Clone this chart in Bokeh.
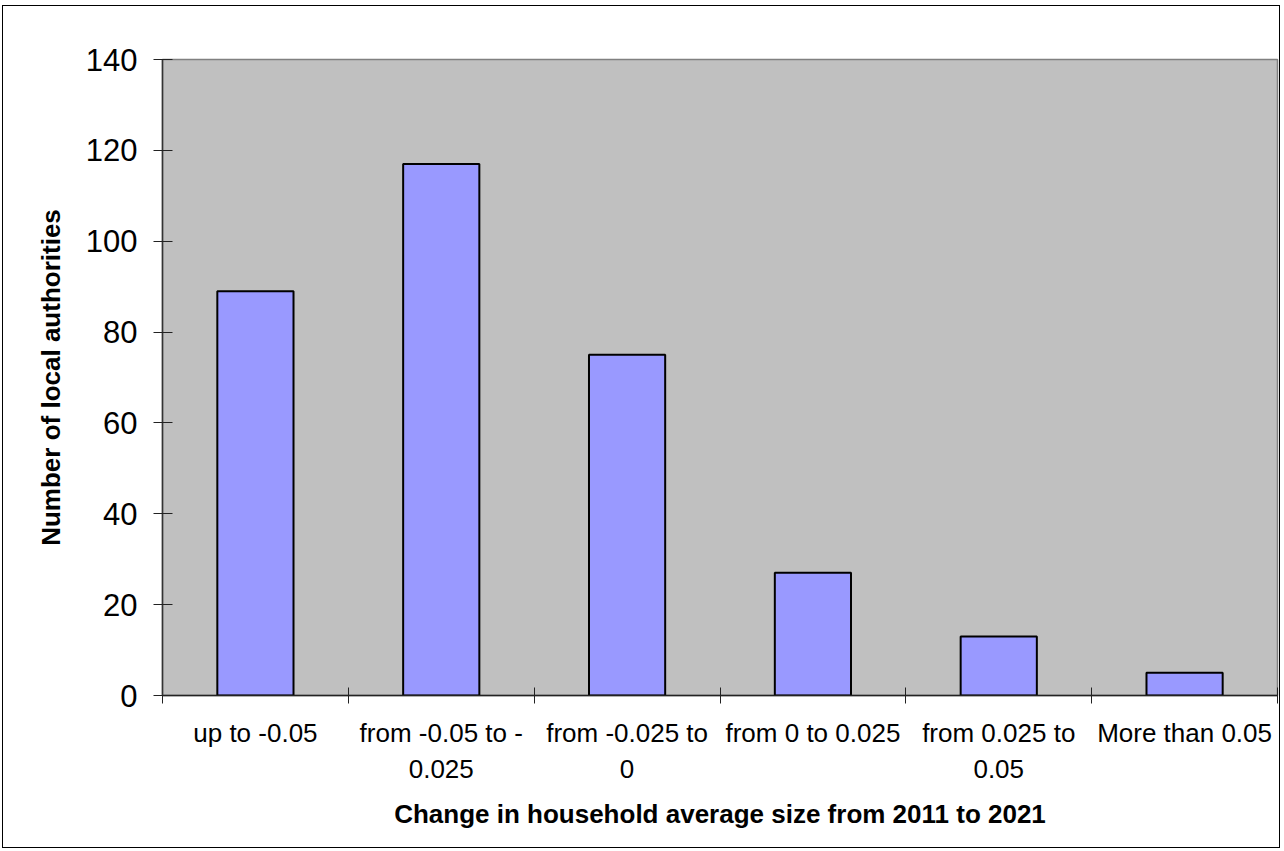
from bokeh.plotting import figure
from bokeh.models import FixedTicker, Range1d
from bokeh.embed import file_html
from bokeh.resources import INLINE

categories = ["up to -0.05", "from -0.05 to -\n0.025", "from -0.025 to\n0",
              "from 0 to 0.025", "from 0.025 to\n0.05", "More than 0.05"]
counts = [89, 117, 75, 27, 13, 5]
y_ticks = [0, 20, 40, 60, 80, 100, 120, 140]
x_title = "Change in household average size from 2011 to 2021"
y_title = "Number of local authorities"

n = len(categories)
centers = [i + 0.5 for i in range(n)]
bounds = list(range(n + 1))

FONT = "Liberation Sans"

p = figure(width=1278, height=843, x_range=Range1d(0, n), y_range=Range1d(0, 140),
           output_backend="svg", toolbar_location=None,
           min_border_left=159, min_border_top=53, min_border_right=4, min_border_bottom=154)
p.styles = {"border": "1px solid black", "margin-left": "2px", "margin-top": "5px"}

p.background_fill_color = "#C0C0C0"
p.border_fill_color = "white"
p.outline_line_color = "#808080"
p.outline_line_width = 1.5
p.xgrid.visible = False
p.ygrid.visible = False

p.vbar(x=centers, top=counts, width=0.41, bottom=0,
       fill_color="#9999FF", line_color="black", line_width=2)

# y axis
ya = p.yaxis[0]
ya.ticker = FixedTicker(ticks=y_ticks, minor_ticks=[])
ya.major_tick_in = 10
ya.major_tick_out = 9
ya.major_tick_line_color = "#222222"
ya.major_tick_line_width = 1
ya.axis_line_color = "#333333"
ya.axis_line_width = 1.5
ya.major_label_text_font = FONT
ya.major_label_text_font_size = "31px"
ya.major_label_text_color = "black"
ya.major_label_standoff = 16
ya.axis_label = y_title
ya.axis_label_text_font = FONT
ya.axis_label_text_font_size = "26px"
ya.axis_label_text_font_style = "bold"
ya.axis_label_text_color = "black"
ya.axis_label_standoff = 17

# x axis
xa = p.xaxis[0]
xa.ticker = FixedTicker(ticks=centers, minor_ticks=bounds)
xa.major_label_overrides = {c: lab for c, lab in zip(centers, categories)}
xa.major_tick_in = 0
xa.major_tick_out = 0
xa.major_tick_line_color = None
xa.minor_tick_in = 8
xa.minor_tick_out = 8
xa.minor_tick_line_color = "#222222"
xa.minor_tick_line_width = 1
xa.axis_line_color = "#222222"
xa.axis_line_width = 1.5
xa.major_label_text_font = FONT
xa.major_label_text_font_size = "26px"
xa.major_label_text_color = "black"
xa.major_label_standoff = 14
xa.axis_label = x_title
xa.axis_label_text_font = FONT
xa.axis_label_text_font_size = "26px"
xa.axis_label_text_font_style = "bold"
xa.axis_label_text_color = "black"
xa.axis_label_standoff = 12

open("out.html", "w").write(file_html(p, INLINE))
